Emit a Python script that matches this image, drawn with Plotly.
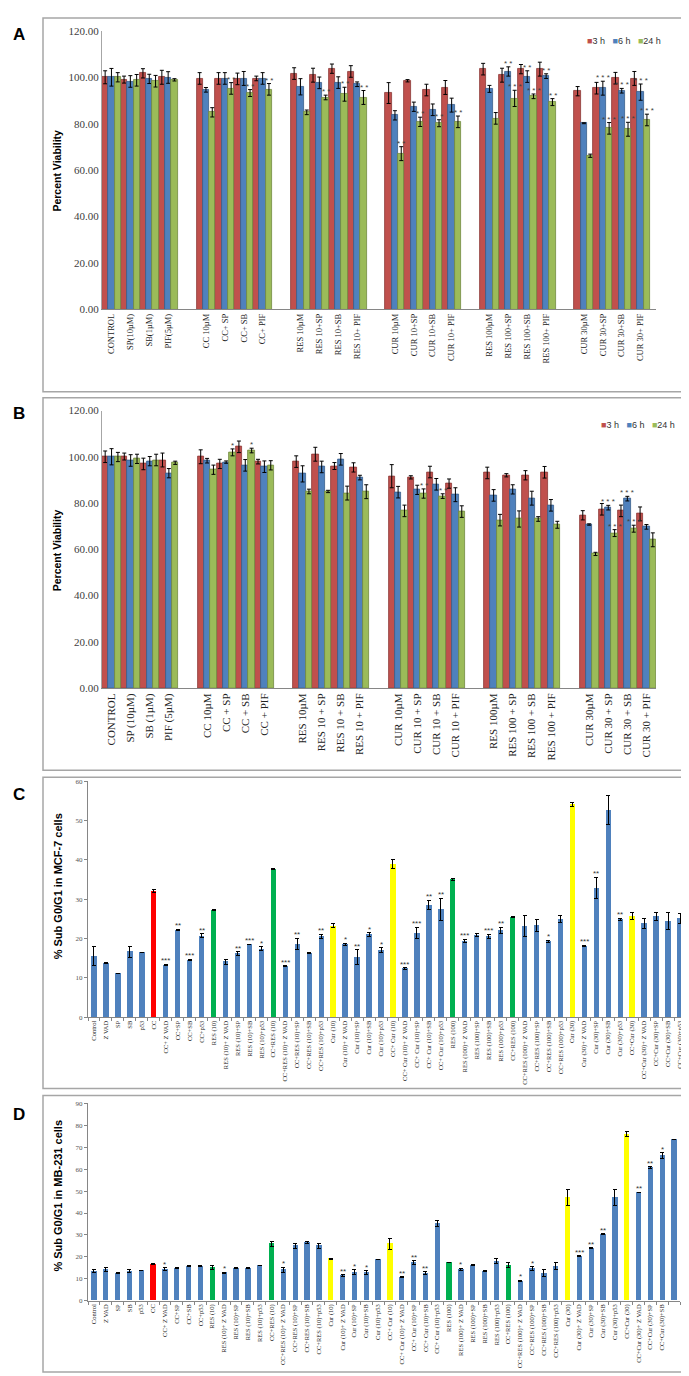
import plotly.graph_objects as go

W, H = 689, 1376

# ---------------- Panel A / B data (None = empty gap slot) ----------------
ab_labels_a = ["CONTROL", "SP(10µM)", "SB(1µM)", "PIF(5µM)", None,
               "CC 10µM", "CC+ SP", "CC+ SB", "CC+ PIF", None,
               "RES 10µM", "RES 10+SP", "RES 10+SB", "RES 10+ PIF", None,
               "CUR 10µM", "CUR 10+SP", "CUR 10+SB", "CUR 10+ PIF", None,
               "RES 100µM", "RES 100+SP", "RES 100+SB", "RES 100+ PIF", None,
               "CUR 30µM", "CUR 30+SP", "CUR 30+SB", "CUR 30+ PIF"]
ab_labels_b = ["CONTROL", "SP (10µM)", "SB (1µM)", "PIF (5µM)", None,
               "CC 10µM", "CC + SP", "CC + SB", "CC + PIF", None,
               "RES 10µM", "RES 10 + SP", "RES 10 + SB", "RES 10 + PIF", None,
               "CUR 10µM", "CUR 10 + SP", "CUR 10 + SB", "CUR 10 + PIF", None,
               "RES 100µM", "RES 100 + SP", "RES 100 + SB", "RES 100 + PIF", None,
               "CUR 30µM", "CUR 30 + SP", "CUR 30 + SB", "CUR 30 + PIF"]
series_names = ["3 h", "6 h", "24 h"]

a_3h = [100, 99, 101.7, 100, None, 99.5, 99.5, 99.3, 99.5, None, 101.6, 100.9, 103.7, 102.5, None,
        93.2, 98.5, 94.5, 95.6, None, 103.5, 100.9, 103.5, 103.5, None, 94, 95.3, 99.6, 99.5]
a_3h_err = [2.8, 1.5, 2, 3, 0, 2.5, 2.5, 2.5, 1, 0, 2.5, 3, 2, 2.5, 0,
            4.5, 0.5, 2.5, 3, 0, 2.5, 3, 2, 3, 0, 2, 2.5, 2.5, 3]
a_6h = [100, 98.2, 99.3, 99.9, None, 94.6, 99.5, 99.5, 99.5, None, 95.9, 97.6, 97.7, 97, None,
        83.6, 87.3, 86, 88, None, 95, 102.5, 100.3, 100.5, None, 80.2, 95.3, 94.2, 93.6]
a_6h_err = [3.8, 2.5, 2, 2.5, 0, 1, 2.5, 3, 2.5, 0, 3.5, 2.5, 2.5, 1, 0,
            2, 2, 2.5, 3, 0, 1.5, 2, 2.5, 1, 0, 0.2, 3, 1, 3.5]
a_24h = [100, 98.7, 98.3, 98.9, None, 84.9, 95.2, 93.2, 94.8, None, 84.9, 91.3, 92.7, 91.3, None,
         67.1, 80.8, 80.2, 80.8, None, 82.3, 90.9, 91.8, 89.3, None, 66.2, 78, 77.6, 81.6]
a_24h_err = [2, 2.5, 2.5, 0.5, 0, 2, 2.5, 1.5, 2.5, 0, 1, 1, 3, 3, 0,
             3, 2, 1.5, 2.5, 0, 2.5, 3.5, 1, 1.5, 0, 0.7, 2.5, 3, 2.5]
a_3h_stars = [""] * 29
a_6h_stars = ["", "", "", "", "", "", "", "", "", "", "", "", "", "", "",
              "", "", "", "", "", "", "**", "**", "**", "", "", "***", "***", "***"]
a_24h_stars = ["", "", "", "", "", "", "**", "**", "**", "", "", "**", "**", "**", "",
               "**", "**", "**", "**", "", "", "***", "***", "**", "", "", "***", "***", "***"]

b_3h = [100, 100.1, 96.9, 98.6, None, 100, 96.9, 104.3, 97.9, None, 97.9, 101.1, 96, 95.4, None,
        91.6, 91.1, 93.4, 88.4, None, 93, 92, 92, 93.3, None, 74.7, 77.3, 76.6, 75.3]
b_3h_err = [2.5, 1.5, 2.5, 3, 0, 3, 2, 2.5, 1, 0, 2.5, 3, 1.5, 2, 0,
            5, 0.7, 2.5, 2, 0, 2.5, 0.7, 2, 2.5, 0, 2, 2.5, 2.5, 3]
b_6h = [100, 98.4, 98.1, 92.9, None, 98.3, 97.7, 96.3, 95.7, None, 92.6, 95.6, 98.9, 91, None,
        84.7, 85.7, 88.1, 83.6, None, 83.3, 85.9, 82.1, 79, None, 70.7, 78, 81.9, 69.7]
b_6h_err = [3.5, 2.5, 2, 2, 0, 1, 0.5, 2.5, 2.5, 0, 3.5, 2.5, 2.5, 1, 0,
            2.5, 2, 2.5, 3, 0, 2.5, 2, 3, 2.5, 0, 0.3, 1, 1, 1]
b_24h = [99.9, 99.1, 98.6, 97.4, None, 94.4, 101.9, 102.7, 96.3, None, 85, 85, 84.3, 84.9, None,
         76.6, 84.1, 83, 76.3, None, 72.6, 73.1, 73.1, 70.6, None, 58, 67, 68.9, 64.1]
b_24h_err = [2, 2, 2.5, 0.7, 0, 2, 1.5, 1, 2, 0, 1, 0.5, 3, 3, 0,
             2.5, 2, 1, 2.5, 0, 2.5, 3.5, 1, 1.5, 0, 0.7, 1.5, 1.5, 3]
b_3h_stars = [""] * 29
b_6h_stars = [""] * 26 + ["***", "***", ""]
b_24h_stars = ["", "", "", "", "", "", "*", "*", "", "", "", "", "", "", "",
               "", "**", "**", "", "", "", "", "", "", "", "", "***", "***", ""]

# ---------------- Panel C / D data ----------------
cd_labels = ["Control", "Z VAD", "SP", "SB", "p53", "CC", "CC+ Z VAD", "CC+SP", "CC+SB", "CC+p53",
             "RES (10)", "RES (10)+ Z VAD", "RES (10)+SP", "RES (10)+SB", "RES (10)+p53",
             "CC+RES (10)", "CC+RES (10)+ Z VAD", "CC+RES (10)+SP", "CC+RES (10)+SB", "CC+RES (10)+p53",
             "Cur (10)", "Cur (10)+ Z VAD", "Cur (10)+SP", "Cur (10)+SB", "Cur (10)+p53",
             "CC+ Cur (10)", "CC+ Cur (10)+ Z VAD", "CC+ Cur (10)+SP", "CC+ Cur (10)+SB", "CC+ Cur (10)+p53",
             "RES (100)", "RES (100)+ Z VAD", "RES (100)+SP", "RES (100)+SB", "RES (100)+p53",
             "CC+RES (100)", "CC+RES (100)+ Z VAD", "CC+RES (100)+SP", "CC+RES (100)+SB", "CC+RES (100)+p53",
             "Cur (30)", "Cur (30)+ Z VAD", "Cur (30)+SP", "Cur (30)+SB", "Cur (30)+p53",
             "CC+Cur (30)", "CC+Cur (30)+ Z VAD", "CC+Cur (30)+SP", "CC+Cur (30)+SB", "CC+Cur (30)+p53"]

c_vals = [15.5, 13.8, 11.1, 16.7, 16.5, 32.0, 13.3, 22.2, 14.5, 20.7,
          27.3, 14.1, 16.2, 18.5, 17.4, 37.7, 13.0, 18.6, 16.3, 20.6,
          23.2, 18.5, 15.3, 21.0, 17.1, 39.0, 12.4, 21.4, 28.5, 27.4,
          35.0, 19.4, 20.9, 20.6, 22.1, 25.4, 23.2, 23.3, 19.3, 24.9,
          54.1, 18.1, 32.9, 52.7, 24.9, 25.7, 23.8, 25.6, 24.5, 25.1]
c_err = [2.4, 0.1, 0.1, 1.4, 0, 0.4, 0.2, 0.1, 0.2, 0.5,
         0.2, 0.6, 0.5, 0.1, 0.5, 0.1, 0.1, 1.5, 0.1, 0.5,
         0.5, 0.3, 1.8, 0.5, 0.6, 1.2, 0.2, 1.5, 1.2, 2.8,
         0.2, 0.4, 0.3, 0.5, 0.8, 0.1, 2.7, 1.5, 0.3, 0.9,
         0.5, 0.2, 2.7, 3.8, 0.3, 0.9, 1.2, 0.9, 2.2, 1.2]
c_stars = ["", "", "", "", "", "", "***", "**", "***", "**",
           "", "", "**", "***", "*", "", "***", "**", "", "**",
           "", "*", "**", "*", "*", "", "***", "***", "**", "**",
           "", "***", "", "***", "**", "", "", "", "*", "",
           "", "***", "**", "", "**", "", "", "", "", ""]

d_vals = [13.4, 14.1, 12.5, 13.4, 13.8, 16.7, 14.4, 14.9, 15.8, 15.8,
          15.2, 12.8, 14.9, 14.9, 16.0, 26.0, 14.1, 25.1, 26.5, 25.1,
          19.1, 11.4, 13.1, 12.8, 18.8, 26.0, 10.8, 17.3, 12.6, 35.2,
          17.3, 14.3, 16.1, 13.4, 18.1, 16.3, 9.0, 14.6, 12.5, 15.8,
          47.1, 20.3, 23.9, 30.4, 47.1, 76.0, 49.4, 60.7, 66.2, 73.6]
d_err = [0.7, 1.0, 0.3, 0.7, 0.1, 0.3, 0.7, 0.2, 0.2, 0.1,
         0.8, 0.2, 0.2, 0.1, 0.1, 1.2, 1.2, 1.2, 0.6, 1.2,
         0.2, 0.5, 1.0, 0.8, 0.1, 2.5, 0.2, 1.0, 0.5, 1.4,
         0.1, 0.5, 0.2, 0.3, 1.0, 1.0, 0.4, 0.8, 1.5, 1.5,
         3.5, 0.2, 0.2, 0.2, 3.7, 1.2, 0.1, 0.5, 1.2, 0.1]
d_stars = ["", "", "", "", "", "", "*", "", "", "",
           "", "*", "", "", "", "", "*", "", "", "",
           "", "**", "*", "*", "", "", "**", "**", "**", "",
           "", "*", "", "", "", "", "*", "*", "", "",
           "", "***", "**", "**", "", "", "**", "**", "*", ""]

# ---------------- styles ----------------
series_colors = ["#C0504D", "#4F81BD", "#9BBB59"]
series_edges = ["#8C3836", "#385D8A", "#71893F"]
cd_highlight = {"CC": "#FF0000", "RES (10)": "#00B050", "CC+RES (10)": "#00B050",
                "RES (100)": "#00B050", "CC+RES (100)": "#00B050",
                "Cur (10)": "#FFFF00", "CC+ Cur (10)": "#FFFF00",
                "Cur (30)": "#FFFF00", "CC+Cur (30)": "#FFFF00"}
cd_base = "#4F81BD"
SERIF = "Liberation Serif"
SANS = "Liberation Sans"


def px_x(p):
    return p / W


def px_y(p):
    return 1 - p / H


fig = go.Figure()
annotations = []

# domains (pixel based)
dom = {
    "A": dict(x=(94, 648), y=(298, 17)),
    "B": dict(x=(94, 648), y=(680, 400)),
    "C": dict(x=(80, 678), y=(1012, 774)),
    "D": dict(x=(80, 672), y=(1298, 1099)),
}


def keys_for(labels):
    out = []
    g = 0
    for lab in labels:
        if lab is None:
            g += 1
            out.append("gap%d" % g)
        else:
            out.append(lab)
    return out


def add_grouped(panel, labels, vals, errs, stars, xa, ya, tickfont_size):
    keys = keys_for(labels)
    n = len(keys)
    x0, x1 = dom[panel]["x"]
    cat_px = (x1 - x0) / n
    bar_px = cat_px / 3
    for s in range(3):
        fig.add_trace(go.Bar(
            x=keys, y=vals[s], name=series_names[s], xaxis=xa, yaxis=ya,
            marker=dict(color=series_colors[s], line=dict(color=series_edges[s], width=0.8)),
            error_y=dict(type="data", array=errs[s], color="black", thickness=1, width=2),
            showlegend=False))
        for i, st in enumerate(stars[s]):
            if st and vals[s][i] is not None:
                annotations.append(dict(
                    x=keys[i], y=vals[s][i] + errs[s][i], xref=xa, yref=ya,
                    text=" ".join(st), showarrow=False, yanchor="bottom", xanchor="center",
                    xshift=(s - 1) * bar_px, yshift=-3,
                    font=dict(family=SANS, size=8, color="#404040")))
    axis_x = dict(type="category", categoryorder="array", categoryarray=keys,
                  tickmode="array", tickvals=keys,
                  ticktext=[l if l is not None else "" for l in labels],
                  tickangle=-90, tickfont=dict(family=SERIF, size=tickfont_size, color="#222"),
                  showline=True, linecolor="#868686", linewidth=1, ticks="",
                  showgrid=False, zeroline=False,
                  domain=[px_x(x0), px_x(x1)], anchor=ya.replace("y", "y"))
    axis_y = dict(range=[0, 120], tickvals=list(range(0, 121, 20)), tickformat=".2f",
                  tickfont=dict(family=SERIF, size=11, color="#404040"),
                  showline=True, linecolor="#A6A6A6", linewidth=1, ticks="",
                  showgrid=False, zeroline=False,
                  domain=[px_y(dom[panel]["y"][0]), px_y(dom[panel]["y"][1])])
    return axis_x, axis_y


def add_single(panel, vals, errs, stars, xa, ya, ymax, tick_labels):
    keys = cd_labels
    colors = [cd_highlight.get(k, cd_base) for k in keys]
    fig.add_trace(go.Bar(
        x=keys, y=vals, xaxis=xa, yaxis=ya, width=0.45,
        marker=dict(color=colors, line=dict(width=0)),
        error_y=dict(type="data", array=errs, color="black", thickness=1, width=2),
        showlegend=False))
    for i, st in enumerate(stars):
        if st:
            annotations.append(dict(
                x=keys[i], y=vals[i] + errs[i], xref=xa, yref=ya,
                text=st, showarrow=False, yanchor="bottom", xanchor="center", yshift=-3,
                font=dict(family=SANS, size=8, color="#333")))
    x0, x1 = dom[panel]["x"]
    axis_x = dict(type="category", categoryorder="array", categoryarray=keys,
                  tickmode="array", tickvals=keys, ticktext=tick_labels,
                  tickangle=-90, tickfont=dict(family=SERIF, size=6.5, color="#222"),
                  showline=True, linecolor="#868686", linewidth=1,
                  ticks="outside", ticklen=3, tickcolor="#868686", tickson="boundaries",
                  showgrid=False, zeroline=False, domain=[px_x(x0), px_x(x1)])
    axis_y = dict(range=[0, ymax], tickvals=list(range(0, ymax + 1, 10)),
                  tickfont=dict(family=SERIF, size=7, color="#555"),
                  showline=True, linecolor="#868686", linewidth=1,
                  ticks="outside", ticklen=3, tickcolor="#868686",
                  showgrid=False, zeroline=False,
                  domain=[px_y(dom[panel]["y"][0]), px_y(dom[panel]["y"][1])])
    return axis_x, axis_y


xA, yA = add_grouped("A", ab_labels_a, [a_3h, a_6h, a_24h], [a_3h_err, a_6h_err, a_24h_err],
                     [a_3h_stars, a_6h_stars, a_24h_stars], "x", "y", 8.5)
xB, yB = add_grouped("B", ab_labels_b, [b_3h, b_6h, b_24h], [b_3h_err, b_6h_err, b_24h_err],
                     [b_3h_stars, b_6h_stars, b_24h_stars], "x2", "y2", 11)
xC, yC = add_single("C", c_vals, c_err, c_stars, "x3", "y3", 60, cd_labels)
xD, yD = add_single("D", d_vals, d_err, d_stars, "x4", "y4", 90, cd_labels[:-1] + [""])

xA["anchor"] = "y"; yA["anchor"] = "x"
xB["anchor"] = "y2"; yB["anchor"] = "x2"
xC["anchor"] = "y3"; yC["anchor"] = "x3"
xD["anchor"] = "y4"; yD["anchor"] = "x4"

# panel frames
shapes = []
for (t, b) in [(4, 381), (387, 763), (770, 1084), (1091, 1370)]:
    shapes.append(dict(type="rect", xref="paper", yref="paper",
                       x0=px_x(35), x1=px_x(684), y0=px_y(b), y1=px_y(t),
                       line=dict(color="#A6A6A6", width=1.5), fillcolor="rgba(0,0,0,0)"))

# panel letters
for letter, yp in [("A", 21), ("B", 403), ("C", 787), ("D", 1110)]:
    annotations.append(dict(x=px_x(11), y=px_y(yp), xref="paper", yref="paper", text="<b>%s</b>" % letter,
                            showarrow=False, xanchor="center", yanchor="middle",
                            font=dict(family=SANS, size=17, color="black")))

# y titles
for txt, xp, yp, sz in [("Percent Viability", 49, 158, 10.5), ("Percent Viability", 49, 541, 10.5),
                        ("% Sub G0/G1 in MCF-7 cells", 50, 880, 11),
                        ("% Sub G0/G1 in MB-231 cells", 50, 1192, 11)]:
    annotations.append(dict(x=px_x(xp), y=px_y(yp), xref="paper", yref="paper", text="<b>%s</b>" % txt,
                            textangle=-90, showarrow=False, xanchor="center", yanchor="middle",
                            font=dict(family=SANS, size=sz, color="black")))

# legends (A and B)
leg_txt = "   ".join("<span style='color:%s'>■</span>%s" % (c, n) for c, n in zip(series_colors, series_names))
for xp, yp in [(577, 27), (591, 415)]:
    annotations.append(dict(x=px_x(xp), y=px_y(yp), xref="paper", yref="paper", text=leg_txt,
                            showarrow=False, xanchor="left", yanchor="middle",
                            font=dict(family=SANS, size=9, color="#333")))

fig.update_layout(
    width=W, height=H, margin=dict(l=0, r=0, t=0, b=0),
    paper_bgcolor="white", plot_bgcolor="white",
    barmode="group", bargap=0, bargroupgap=0, showlegend=False,
    xaxis=xA, yaxis=yA, xaxis2=xB, yaxis2=yB, xaxis3=xC, yaxis3=yC, xaxis4=xD, yaxis4=yD,
    shapes=shapes, annotations=annotations,
)

fig.write_html("out.html")
